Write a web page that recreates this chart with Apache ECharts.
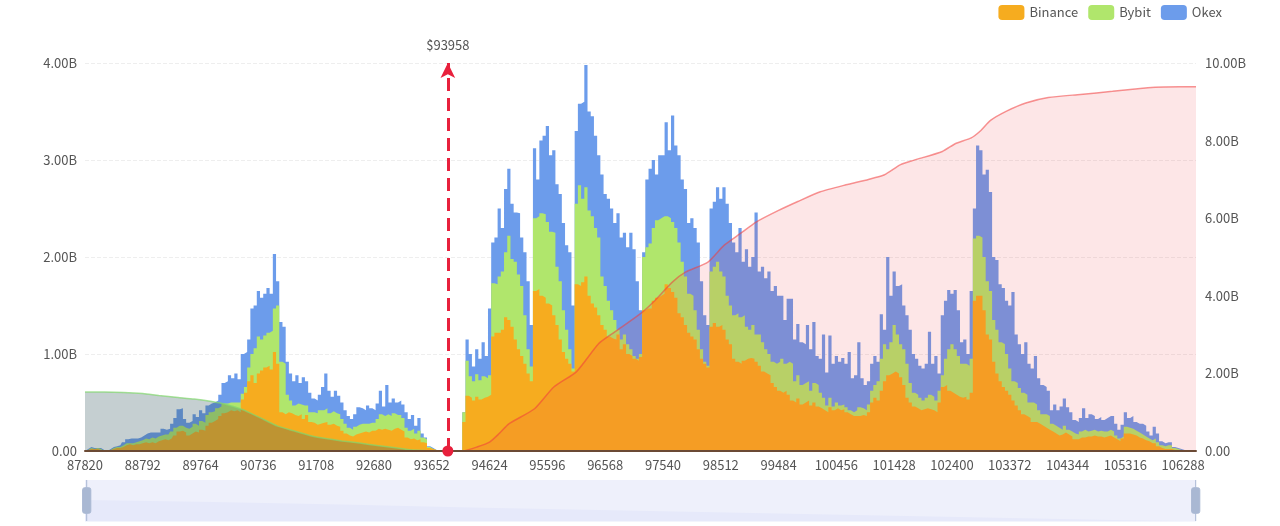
<!DOCTYPE html>
<html>
<head>
<meta charset="utf-8">
<title>Liquidation map</title>
<script src="https://cdn.jsdelivr.net/npm/echarts@6/dist/echarts.min.js"></script>
<style>
    html, body {margin: 0; padding: 0; background: #fff;}
    #chart {width: 1280px; height: 526px;}
</style>
</head>
<body>
<div id="chart"></div>
<script>
// 价格档位: 87820 起, 每档 54
var firstPrice = 87820;
var priceStep = 54;
var currentPrice = 93958;
var currentIndex = 113;
var prices = [];
for (var p = 0; p < 347; p++) {
    prices.push(String(firstPrice + p * priceStep));
}

// 单位 B, 每行 10 档
var binance = [
    0, .01, .02, .02, .02, .01, 0, 0, .01, .02,
    .03, .03, .04, .06, .07, .06, .07, .07, .08, .09,
    .08, .09, .08, .10, .11, .12, .11, .13, .16, .20,
    .21, .19, .16, .18, .20, .19, .22, .21, .26, .29,
    .31, .33, .36, .39, .40, .42, .41, .42, .40, .53,
    .60, .72, .78, .70, .80, .83, .86, .88, .84, 1.02,
    .90, .40, .38, .40, .39, .37, .36, .38, .33, .37,
    .30, .29, .27, .28, .29, .30, .27, .28, .26, .25,
    .21, .18, .16, .15, .17, .18, .19, .20, .19, .21,
    .21, .23, .22, .23, .22, .21, .23, .24, .22, .20,
    .14, .12, .13, .11, .12, .09, .08, .03, .02, .01,
    0, 0, 0, 0, 0, 0, 0, 0, .30, .57,
    .55, .52, .56, .53, .55, .56, .58, 1.18, 1.22, 1.22,
    1.25, 1.38, 1.35, 1.28, 1.15, 1.05, .98, .90, .80, .72,
    1.65, 1.67, 1.60, 1.58, 1.52, 1.50, 1.40, 1.30, 1.15, 1.02,
    .95, .90, .82, 1.72, 1.70, 1.74, 1.80, 1.60, 1.52, 1.48,
    1.40, 1.30, 1.25, 1.18, 1.16, 1.15, 1.20, 1.05, 1.10, 1.00,
    .98, .95, .93, .97, 1.45, 1.47, 1.47, 1.55, 1.58, 1.60,
    1.62, 1.72, 1.68, 1.64, 1.58, 1.42, 1.38, 1.30, 1.22, 1.18,
    1.15, 1.05, .95, .90, .86, 1.28, 1.32, 1.28, 1.30, 1.25,
    1.15, 1.10, .95, .92, .90, .93, .95, .96, .95, .92,
    .88, .82, .80, .78, .70, .66, .62, .60, .62, .58,
    .52, .50, .54, .48, .50, .52, .47, .50, .46, .44,
    .42, .40, .45, .42, .44, .42, .43, .40, .38, .36,
    .36, .36, .37, .36, .40, .50, .55, .52, .62, .72,
    .78, .80, .82, .80, .76, .68, .55, .50, .46, .44,
    .42, .43, .44, .43, .42, .40, .50, .66, .68, .62,
    .60, .58, .56, .55, .56, .53, .60, 1.55, 1.60, 1.60,
    1.45, 1.20, 1.15, .92, .80, .72, .66, .62, .58, .52,
    .47, .42, .38, .36, .34, .30, .30, .28, .26, .24,
    .22, .20, .18, .16, .17, .19, .17, .15, .12, .12,
    .14, .14, .15, .15, .16, .15, .15, .14, .15, .16,
    .14, .12, .10, .13, .18, .18, .17, .16, .14, .13,
    .11, .10, .08, .08, .05, .03, .02, .02, .02, .01,
    .01, 0, 0, 0, 0, 0, 0
];
var bybit = [
    0, 0, .01, 0, .01, .01, 0, 0, 0, .01,
    .01, .01, .02, .02, .01, .02, .02, .03, .03, .04,
    .04, .05, .05, .05, .05, .05, .06, .07, .08, .06,
    .05, .05, .07, .07, .08, .07, .09, .08, .11, .11,
    .10, .11, .10, .10, .09, .08, .09, .08, .10, .06,
    .06, .14, .22, .36, .38, .32, .33, .34, .40, .45,
    .60, .52, .52, .18, .13, .10, .13, .10, .14, .10,
    .10, .11, .12, .14, .13, .14, .12, .13, .13, .13,
    .12, .10, .08, .07, .08, .09, .09, .08, .09, .08,
    .08, .10, .16, .13, .16, .15, .16, .13, .15, .14,
    .10, .09, .10, .07, .09, .05, .04, .01, 0, 0,
    0, 0, 0, 0, 0, 0, 0, 0, .10, .36,
    .22, .20, .23, .20, .22, .19, .20, .55, .50, .58,
    .60, .67, .87, .70, .80, .77, .72, .50, .25, .15,
    .75, .75, .85, .86, .84, .76, .85, .60, .60, .43,
    .30, .15, .03, .83, 1.04, .86, .92, .88, .90, .82,
    .80, .50, .45, .37, .29, .20, .05, .10, .10, .10,
    .07, .03, .02, .03, .55, .63, .67, .75, .80, .80,
    .80, .70, .72, .72, .72, .73, .57, .50, .40, .42,
    .30, .20, .10, .02, .02, .57, .58, .67, .55, .55,
    .45, .40, .45, .50, .48, .47, .33, .29, .35, .28,
    .32, .30, .25, .22, .22, .24, .30, .35, .28, .34,
    .38, .22, .24, .20, .20, .20, .15, .20, .22, .16,
    .13, .07, .10, .04, .06, .05, .05, .05, .04, .04,
    .06, .09, .07, .06, .08, .12, .13, .20, .33, .38,
    .27, .32, .48, .40, .34, .37, .35, .20, .14, .14,
    .13, .09, .11, .15, .14, .12, .12, .12, .27, .43,
    .50, .47, .42, .35, .34, .35, .35, .64, .62, .60,
    .55, .55, .50, .43, .45, .40, .44, .38, .27, .20,
    .23, .23, .22, .22, .16, .20, .18, .14, .12, .14,
    .14, .08, .08, .08, .05, .07, .05, .05, .06, .05,
    .06, .08, .05, .06, .06, .05, .06, .06, .05, .06,
    .06, .04, .03, .02, .07, .06, .06, .05, .05, .04,
    .04, .03, .03, .05, .04, .03, .03, .04, .04, .02,
    .01, .01, 0, 0, 0, 0, 0
];
var okex = [
    0, .01, .01, .01, 0, .01, .01, 0, .01, .01,
    .01, .02, .03, .04, .05, .05, .04, .04, .05, .05,
    .07, .05, .06, .04, .07, .05, .06, .08, .10, .17,
    .18, .09, .06, .06, .10, .09, .11, .10, .10, .09,
    .09, .08, .12, .21, .23, .28, .25, .30, .24, .41,
    .36, .29, .47, .44, .47, .43, .43, .46, .38, .56,
    .25, .41, .38, .34, .28, .25, .29, .22, .29, .25,
    .20, .14, .13, .16, .24, .36, .23, .15, .23, .19,
    .17, .14, .12, .11, .13, .18, .16, .14, .19, .15,
    .13, .16, .24, .10, .30, .14, .15, .13, .15, .14,
    .16, .12, .14, .08, .13, .04, .02, .01, .01, 0,
    0, 0, 0, 0, 0, 0, 0, 0, 0, .22,
    .23, .15, .26, .22, .35, .23, .69, .42, .48, .70,
    .45, .65, .69, .57, .51, .63, .50, .65, .70, .43,
    .72, .38, .75, .81, .99, .79, .85, .85, .90, .90,
    .87, 1.00, .65, .75, .84, 1.00, 1.26, 1.02, 1.03, .95,
    .85, 1.05, .95, 1.05, 1.05, 1.00, 1.20, 1.05, 1.05, 1.00,
    1.20, 1.10, .80, .45, .05, .70, .77, .70, .47, .65,
    .63, .97, .70, 1.10, .85, .90, .85, .90, .73, .80,
    .85, .90, .70, .48, .42, .65, .67, .77, .75, .92,
    .95, .85, .75, .63, .92, .55, .80, .65, .70, 1.26,
    .65, .78, .73, .85, .73, .80, .68, .65, .45, .65,
    .67, .43, .53, .44, .40, .58, .43, .63, .30, .35,
    .65, .34, .64, .44, .48, .45, .48, .45, .60, .35,
    .36, .67, .31, .26, .24, .28, .30, .20, .46, .15,
    .95, .48, .55, .50, .62, .45, .50, .55, .40, .37,
    .33, .33, .35, .65, .34, .46, .18, .62, .60, .61,
    .52, .61, .47, .22, .25, .12, .70, .31, .93, .90,
    .85, 1.15, 1.02, .65, .72, .60, .58, .55, .65, .92,
    .50, .45, .40, .54, .40, .35, .50, .33, .30, .28,
    .26, .14, .22, .18, .24, .28, .23, .20, .14, .13,
    .14, .22, .14, .17, .14, .13, .14, .12, .14, .14,
    .16, .12, .09, .12, .15, .10, .13, .09, .09, .11,
    .11, .07, .05, .12, .09, .04, .03, .03, .03, .01,
    .01, .01, .01, .01, 0, 0, 0
];

// 累计曲线 [档位, 值B], 走右轴
var cumShort = [
    [0, 1.52], [6, 1.52], [12, 1.51], [18, 1.48], [23, 1.43], [29, 1.38], [34, 1.34],
    [39, 1.28], [44, 1.20], [49, 1.07], [54, .88], [60, .64], [65, .52], [70, .40],
    [75, .32], [80, .26], [86, .20], [91, .14], [96, .09], [101, .03], [106, .01], [110, 0]
];
var cumLong = [
    [118, 0], [122, .10], [126, .23], [129, .45], [132, .70], [140, 1.09], [146, 1.65],
    [153, 2.04], [160, 2.77], [165, 3.07], [173, 3.54], [177, 3.84], [183, 4.36], [187, 4.61],
    [194, 4.87], [199, 5.30], [204, 5.60], [209, 5.90], [216, 6.20], [222, 6.43], [229, 6.68],
    [237, 6.86], [244, 7.00], [249, 7.12], [254, 7.38], [258, 7.49], [267, 7.72], [271, 7.92],
    [276, 8.07], [279, 8.26], [282, 8.52], [287, 8.76], [293, 8.97], [300, 9.11], [310, 9.19],
    [320, 9.27], [331, 9.36], [336, 9.38], [346, 9.39]
];
// 缩略条里的阴影
var overview = [[0, 21.5], [40, 19.5], [80, 17], [120, 14], [160, 11.5], [200, 9], [240, 6.5], [280, 4], [320, 1.5], [346, .2]];

var textColor = '#555';
var fontName = '"Noto Sans CJK SC", "Noto Sans", sans-serif';

function moneyLabel(v) {
    return v === 0 ? '0.00' : v.toFixed(2) + 'B';
}

// 自己累加, 从高到低画, stack 的阶梯面积之间会露白缝
var bybitTop = binance.map(function (v, i) { return v + bybit[i]; });
var okexTop = bybitTop.map(function (v, i) { return v + okex[i]; });

function stepArea(name, values, color) {
    return {
        name: name,
        type: 'line',
        step: 'middle',
        showSymbol: false,
        lineStyle: {width: 0},
        itemStyle: {color: color},
        areaStyle: {color: color, opacity: 1},
        data: values
    };
}

var chart = echarts.init(document.getElementById('chart'));

var okexSeries = stepArea('Okex', okexTop, '#6c9ceb');
okexSeries.markLine = {
    silent: true,
    symbol: ['circle', 'arrow'],
    symbolSize: [11, 15],
    lineStyle: {color: '#e8203c', width: 3, type: [13, 7]},
    label: {
        position: 'end',
        formatter: '$' + currentPrice,
        color: textColor,
        fontSize: 13,
        fontFamily: fontName,
        distance: 11
    },
    data: [{xAxis: currentIndex}]
};

var option = {
    animation: false,
    textStyle: {fontFamily: fontName},
    legend: {
        top: 0,
        right: 53,
        icon: 'roundRect',
        itemWidth: 26,
        itemHeight: 15,
        itemGap: 10,
        textStyle: {color: textColor, fontSize: 13, fontFamily: fontName},
        data: ['Binance', 'Bybit', 'Okex']
    },
    grid: [
        {left: 85, right: 84, top: 63, bottom: 75},
        {left: 85, right: 84, top: 480, height: 41.5, show: true, backgroundColor: '#eef0fb', borderWidth: 0}
    ],
    xAxis: [
        {
            type: 'category',
            data: prices,
            boundaryGap: false,
            z: 4,
            axisLine: {lineStyle: {color: '#6b4a35', width: 2}},
            axisTick: {show: false},
            axisLabel: {interval: 17, color: textColor, fontSize: 13, margin: 8, fontFamily: fontName},
            splitLine: {show: false}
        },
        {
            type: 'category',
            gridIndex: 1,
            data: prices,
            boundaryGap: false,
            show: false
        }
    ],
    yAxis: [
        {
            type: 'value',
            min: 0,
            max: 4,
            interval: 1,
            axisLine: {show: false},
            axisTick: {show: false},
            axisLabel: {color: textColor, fontSize: 13, formatter: moneyLabel, margin: 8, fontFamily: fontName},
            splitLine: {lineStyle: {color: '#eeeeee', type: 'dashed'}}
        },
        {
            type: 'value',
            min: 0,
            max: 10,
            interval: 2,
            position: 'right',
            axisLine: {show: false},
            axisTick: {show: false},
            axisLabel: {color: textColor, fontSize: 13, formatter: moneyLabel, margin: 9, fontFamily: fontName},
            splitLine: {show: false}
        },
        {
            type: 'value',
            gridIndex: 1,
            min: 0,
            max: 41.5,
            show: false
        }
    ],
    dataZoom: [{
        type: 'slider',
        xAxisIndex: 0,
        left: 85,
        right: 84,
        top: 480,
        height: 41,
        start: 0,
        end: 100,
        showDetail: false,
        showDataShadow: false,
        brushSelect: false,
        moveHandleSize: 0,
        borderColor: 'transparent',
        backgroundColor: 'transparent',
        fillerColor: 'transparent',
        handleSize: '100%',
        handleStyle: {color: '#a9b8d3', borderColor: '#a9b8d3'}
    }],
    series: [
        okexSeries,
        stepArea('Bybit', bybitTop, '#b0e66c'),
        stepArea('Binance', binance, '#f6ac1f'),
        {
            name: 'Short total',
            type: 'line',
            yAxisIndex: 1,
            z: 3,
            smooth: 0.2,
            showSymbol: false,
            lineStyle: {color: 'rgba(130,215,110,.7)', width: 1.5},
            areaStyle: {color: 'rgba(55,90,97,.29)', opacity: 1},
            data: cumShort
        },
        {
            name: 'Long total',
            type: 'line',
            yAxisIndex: 1,
            z: 3,
            smooth: 0.2,
            showSymbol: false,
            lineStyle: {color: 'rgba(240,60,60,.55)', width: 1.5},
            areaStyle: {color: 'rgba(240,60,70,.13)', opacity: 1},
            data: cumLong
        },
        {
            name: 'Overview',
            type: 'line',
            xAxisIndex: 1,
            yAxisIndex: 2,
            showSymbol: false,
            silent: true,
            lineStyle: {width: 0},
            areaStyle: {color: '#e6e9fa', opacity: 1},
            data: overview
        }
    ]
};
chart.setOption(option);
</script>
</body>
</html>
